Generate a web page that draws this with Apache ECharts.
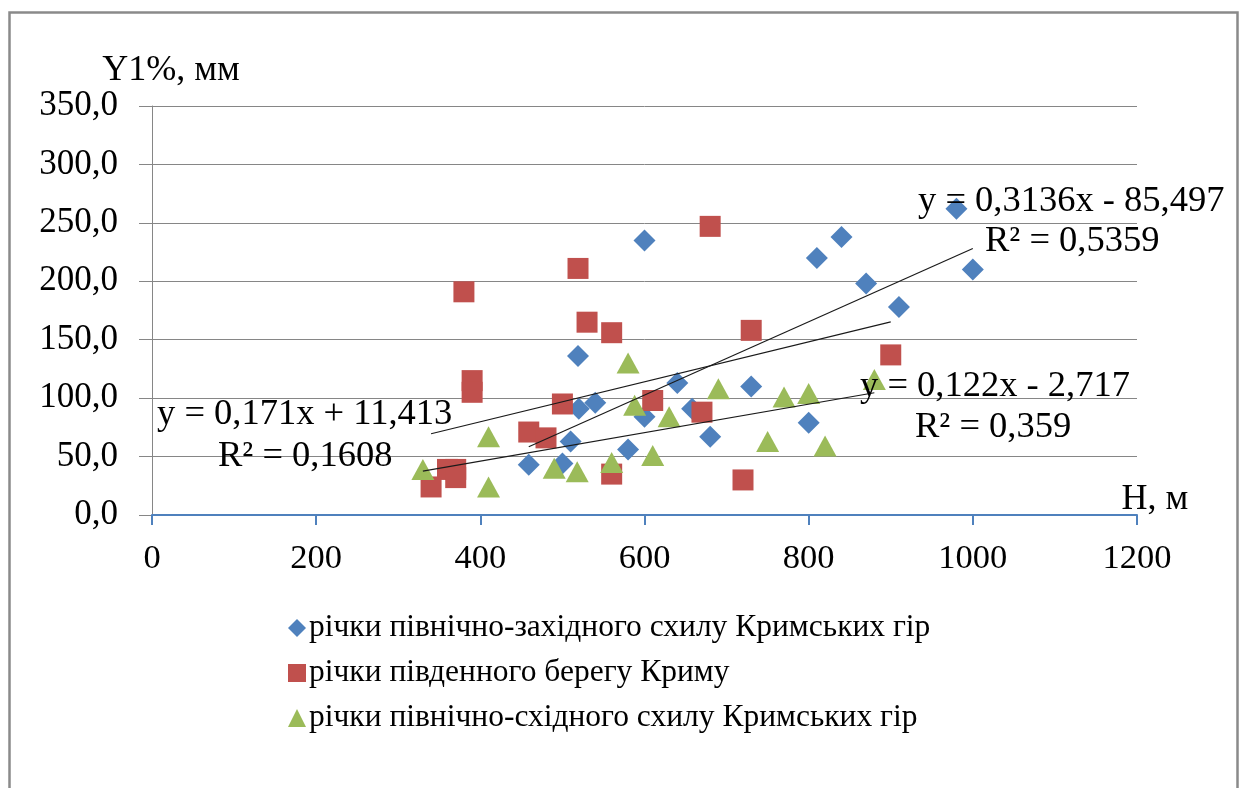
<!DOCTYPE html>
<html>
<head>
<meta charset="utf-8">
<script src="https://cdn.jsdelivr.net/npm/echarts@6/dist/echarts.min.js"></script>
<style>
  html, body { margin: 0; padding: 0; background: #fff; }
  #chart { width: 1243px; height: 788px; }
</style>
</head>
<body>
<div id="chart"></div>
<script>
// Series names
const nameNW = 'річки північно-західного схилу Кримських гір';
const nameS  = 'річки південного берегу Криму';
const nameNE = 'річки північно-східного схилу Кримських гір';

// H, м (x) and Y1%, мм (y) per group
const nwH = [459, 500, 510, 519, 520, 540, 580, 600, 600, 640, 658, 680, 730, 800, 810, 840, 870, 910, 980, 1000];
const nwY = [43, 44, 63, 136, 91, 96, 56, 235, 84, 113, 91, 67, 110, 79, 220, 238, 198, 178, 262, 210];

const sH = [340, 360, 370, 370, 380, 390, 390, 459, 480, 500, 519, 530, 560, 560, 610, 670, 680, 720, 730, 900];
const sY = [24, 39, 39, 32, 191, 115, 105, 71, 66, 95, 211, 165, 156, 35, 98, 88, 247, 30, 158, 137];

const neH = [330, 410, 410, 490, 518, 560, 580, 588, 610, 630, 690, 750, 770, 800, 820, 880];
const neY = [39, 67, 24, 40, 37, 45, 130, 94, 51, 84, 108, 63, 101, 104, 59, 116];

// Linear trend coefficients [slope, intercept] and x-extent of each trend line
const nwTrend = [0.3136, -85.497];
const sTrend  = [0.171, 11.413];
const neTrend = [0.122, -2.717];
const nwSpan = [459, 1000];
const sSpan  = [340, 900];
const neSpan = [330, 880];

// Equation captions
const nwEq = ['y = 0,3136x - 85,497', 'R² = 0,5359'];
const sEq  = ['y = 0,171x + 11,413', 'R² = 0,1608'];
const neEq = ['y = 0,122x - 2,717', 'R² = 0,359'];

// Axis ticks
const xTicks = [0, 200, 400, 600, 800, 1000, 1200];
const yTicks = [0, 50, 100, 150, 200, 250, 300, 350];

const FONT = "'Liberation Serif', 'Times New Roman', serif";
const EQ_FS = 36.5;

function pairs(xs, ys) { return xs.map((x, i) => [x, ys[i]]); }
function trend(coef, span) { return span.map(x => [x, coef[0] * x + coef[1]]); }

const chart = echarts.init(document.getElementById('chart'), null, { renderer: 'canvas' });

const trendStyle = {
  type: 'line', symbol: 'none', silent: true, z: 5,
  lineStyle: { color: '#1a1a1a', width: 1.2 }
};

function eqText(txt, left, top) {
  return {
    type: 'text', left: left, top: top, z: 10,
    style: { text: txt, fill: '#000', font: EQ_FS + 'px ' + FONT }
  };
}

chart.setOption({
  animation: false,
  backgroundColor: '#fff',
  textStyle: { fontFamily: FONT },
  grid: { left: 152, right: 106, top: 106, bottom: 273, containLabel: false },
  xAxis: {
    type: 'value', min: xTicks[0], max: xTicks[xTicks.length - 1], interval: 200,
    name: 'H, м', nameLocation: 'end', nameGap: 18,
    nameTextStyle: { fontFamily: FONT, fontSize: 36, color: '#000', align: 'center', verticalAlign: 'bottom', lineHeight: 30, padding: 0 },
    axisLine: { show: true, onZero: false, lineStyle: { color: '#4F81BD', width: 2 } },
    axisTick: { show: true, inside: false, length: 10, lineStyle: { color: '#4F81BD', width: 2 } },
    axisLabel: { fontFamily: FONT, fontSize: 34.5, color: '#000', margin: 26, formatter: v => String(v) },
    splitLine: { show: false }
  },
  yAxis: {
    type: 'value', min: yTicks[0], max: yTicks[yTicks.length - 1], interval: 50,
    name: 'Y1%, мм', nameLocation: 'end', nameGap: 16,
    nameTextStyle: { fontFamily: FONT, fontSize: 36, color: '#000', align: 'center', verticalAlign: 'bottom', padding: [0, 0, 0, 38] },
    axisLine: { show: true, lineStyle: { color: '#868686', width: 1 } },
    axisTick: { show: true, inside: false, length: 13, lineStyle: { color: '#868686', width: 1 } },
    axisLabel: {
      fontFamily: FONT, fontSize: 35, color: '#000', margin: 34,
      formatter: v => v.toFixed(1).replace('.', ',')
    },
    splitLine: { show: true, lineStyle: { color: '#868686', width: 1 } }
  },
  legend: {
    orient: 'vertical', left: 283, top: 606,
    itemWidth: 18, itemHeight: 18, itemGap: 11,
    textStyle: { fontFamily: FONT, fontSize: 31.5, color: '#000', lineHeight: 34, padding: [0, 0, 0, -2] },
    data: [
      { name: nameNW, icon: 'diamond' },
      { name: nameS, icon: 'rect' },
      { name: nameNE, icon: 'triangle' }
    ]
  },
  series: [
    { name: nameNW, type: 'scatter', symbol: 'diamond', symbolSize: 22, z: 3,
      itemStyle: { color: '#4F81BD', opacity: 1 }, data: pairs(nwH, nwY) },
    { name: nameS, type: 'scatter', symbol: 'rect', symbolSize: 21, z: 3,
      itemStyle: { color: '#C0504D', opacity: 1 }, data: pairs(sH, sY) },
    { name: nameNE, type: 'scatter', symbol: 'triangle', symbolSize: [23, 21], z: 3,
      itemStyle: { color: '#9BBB59', opacity: 1 }, data: pairs(neH, neY) },
    Object.assign({ name: 'trendNW', data: trend(nwTrend, nwSpan) }, trendStyle),
    Object.assign({ name: 'trendS', data: trend(sTrend, sSpan) }, trendStyle),
    Object.assign({ name: 'trendNE', data: trend(neTrend, neSpan) }, trendStyle)
  ],
  graphic: [
    { type: 'rect', left: 7, top: 10, z: 0, silent: true,
      shape: { width: 1228, height: 800 },
      style: { fill: 'none', stroke: '#8a8a8a', lineWidth: 2.5 } },
    eqText(nwEq[0], 918, 183),
    eqText(nwEq[1], 985, 223),
    eqText(neEq[0], 860, 368),
    eqText(neEq[1], 915, 409),
    eqText(sEq[0], 157, 396),
    eqText(sEq[1], 218, 438)
  ]
});
</script>
</body>
</html>
